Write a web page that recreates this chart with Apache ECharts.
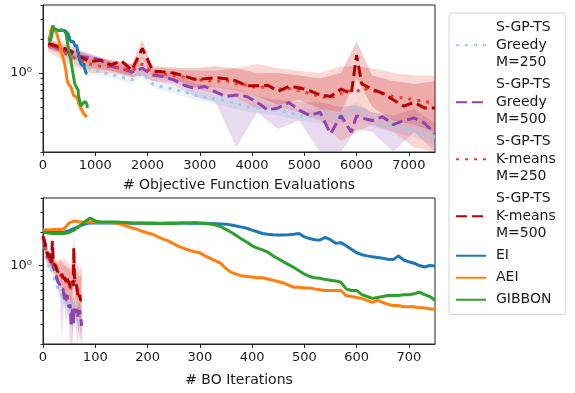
<!DOCTYPE html>
<html>
<head>
<meta charset="utf-8">
<script src="https://cdn.jsdelivr.net/npm/echarts@6/dist/echarts.min.js"></script>
<style>
  html, body { margin: 0; padding: 0; background: #fff; }
  #chart { width: 575px; height: 393px; }
</style>
</head>
<body>
<div id="chart"></div>
<script>
// batch runs: BO iteration index (100 initial points + 100 evaluations per batch)
const sgpIters = [0, 2, 4, 6, 8, 10, 12, 14, 16, 18, 20, 22, 24, 26, 28, 30, 32, 34, 36, 38,
  40, 42, 44, 46, 48, 50, 52, 54, 56, 58, 59, 60, 62, 64, 66, 68, 70, 72, 74];
const greedy250 = [1.75, 1.6, 1.4, 1.25, 1.1, 1.02, 0.97, 0.92, 0.87, 1.0, 0.8, 0.75, 0.72, 0.68, 0.64, 0.61, 0.59, 0.57, 0.54, 0.5,
  0.49, 0.48, 0.47, 0.45, 0.42, 0.41, 0.42, 0.43, 0.40, 0.47, 0.50, 0.42, 0.38, 0.35, 0.34, 0.32, 0.31, 0.29, 0.27];
const greedy500 = [1.8, 1.65, 1.5, 1.4, 1.37, 1.3, 1.15, 1.1, 1.02, 1.1, 0.96, 0.93, 0.87, 0.78, 0.73, 0.76, 0.68, 0.62, 0.64, 0.62,
  0.55, 0.47, 0.49, 0.55, 0.47, 0.42, 0.45, 0.29, 0.42, 0.30, 0.42, 0.40, 0.38, 0.41, 0.35, 0.38, 0.40, 0.36, 0.29];
const kmeans250 = [1.75, 1.62, 1.42, 1.3, 1.2, 1.15, 1.14, 1.1, 1.04, 1.2, 1.0, 0.98, 0.95, 0.92, 0.88, 0.86, 0.84, 0.86, 0.80, 0.78,
  0.74, 0.76, 0.72, 0.73, 0.70, 0.66, 0.62, 0.60, 0.66, 0.70, 0.68, 0.74, 0.70, 0.66, 0.62, 0.60, 0.58, 0.56, 0.54];
const kmeans500 = [1.83, 1.71, 1.6, 1.4, 1.26, 1.3, 1.18, 1.28, 1.06, 1.65, 1.04, 1.02, 1.0, 0.94, 0.88, 0.89, 0.91, 0.89, 0.85, 0.77,
  0.77, 0.78, 0.69, 0.76, 0.74, 0.70, 0.64, 0.62, 0.72, 0.66, 1.44, 0.8, 0.72, 0.66, 0.58, 0.51, 0.55, 0.49, 0.49];

// shaded spread for the batch runs
const bandIters = [0, 4, 8, 12, 16, 18, 20, 24, 28, 32, 36, 40, 44, 48, 52, 56, 59, 62, 66, 70, 74];
const greedy250Hi = [1.85, 1.5, 1.2, 1.05, 0.95, 1.08, 0.86, 0.78, 0.7, 0.64, 0.6, 0.55, 0.52, 0.48, 0.48, 0.45, 0.56, 0.45, 0.39, 0.36, 0.31];
const greedy250Lo = [1.65, 1.3, 1.0, 0.9, 0.8, 0.92, 0.74, 0.66, 0.58, 0.53, 0.48, 0.44, 0.42, 0.38, 0.36, 0.36, 0.44, 0.33, 0.3, 0.27, 0.23];
const greedy500Hi = [1.95, 1.62, 1.5, 1.25, 1.1, 1.25, 1.05, 0.95, 0.82, 0.75, 0.72, 0.62, 0.58, 0.55, 0.55, 0.5, 0.52, 0.45, 0.42, 0.48, 0.36];
const greedy500Lo = [1.65, 1.38, 1.22, 1.05, 0.92, 0.95, 0.85, 0.78, 0.62, 0.55, 0.22, 0.45, 0.32, 0.38, 0.2, 0.2, 0.32, 0.3, 0.2, 0.3, 0.2];
const kmeans250Hi = [1.95, 1.65, 1.4, 1.3, 1.2, 1.4, 1.1, 1.08, 1.05, 1.05, 1.1, 1.2, 1.1, 1.05, 1.0, 1.15, 1.15, 1.1, 1.0, 0.95, 0.95];
const kmeans250Lo = [1.55, 1.2, 1.0, 1.0, 0.92, 0.95, 0.85, 0.82, 0.72, 0.65, 0.6, 0.48, 0.5, 0.45, 0.38, 0.25, 0.3, 0.35, 0.3, 0.22, 0.2];
const kmeans500Hi = [2.0, 1.75, 1.45, 1.3, 1.2, 1.95, 1.15, 1.12, 1.1, 1.15, 1.1, 1.0, 1.0, 0.95, 0.9, 1.0, 1.9, 0.95, 0.85, 0.8, 0.85];
const kmeans500Lo = [1.65, 1.45, 1.1, 1.05, 0.95, 1.35, 0.92, 0.88, 0.75, 0.75, 0.7, 0.62, 0.52, 0.58, 0.48, 0.45, 0.9, 0.5, 0.38, 0.35, 0.3];

// sequential runs: one evaluation per iteration, after 100 initial points
const seqIters = [0, 10, 20, 30, 40, 50, 60, 70, 80, 90, 100, 110, 120, 130, 140, 150, 160, 170, 180, 190,
  200, 210, 220, 230, 240, 250, 260, 270, 280, 290, 300, 310, 320, 330, 340, 350, 360, 370, 380, 390,
  400, 410, 420, 430, 440, 450, 460, 470, 480, 490, 500, 510, 520, 530, 540, 550, 560, 570, 580, 590,
  600, 610, 620, 630, 640, 650, 660, 670, 680, 690, 700, 710, 720, 730, 740, 750];
const ei = [2.0, 1.98, 1.97, 1.97, 1.98, 2.05, 2.15, 2.25, 2.35, 2.4,
  2.4, 2.4, 2.39, 2.39, 2.4, 2.4, 2.39, 2.38, 2.38, 2.39,
  2.4, 2.39, 2.38, 2.38, 2.39, 2.4, 2.4, 2.39, 2.38, 2.38,
  2.38, 2.38, 2.37, 2.36, 2.35, 2.34, 2.3, 2.25, 2.2, 2.15,
  2.07, 2.0, 1.93, 1.9, 1.88, 1.87, 1.87, 1.88, 1.9, 1.93,
  1.8, 1.74, 1.7, 1.69, 1.78, 1.7, 1.58, 1.6, 1.5, 1.4,
  1.3, 1.25, 1.22, 1.2, 1.18, 1.16, 1.14, 1.13, 1.22, 1.12,
  1.08, 1.05, 1.0, 0.97, 1.0, 0.99];
const aei = [2.07, 2.08, 2.1, 2.1, 2.12, 2.4, 2.5, 2.45, 2.45, 2.45,
  2.45, 2.43, 2.42, 2.42, 2.38, 2.33, 2.25, 2.17, 2.1, 2.02,
  1.95, 1.9, 1.8, 1.72, 1.66, 1.56, 1.48, 1.42, 1.37, 1.33,
  1.3, 1.22, 1.16, 1.1, 1.05, 0.94, 0.87, 0.84, 0.81, 0.8,
  0.79, 0.78, 0.78, 0.76, 0.74, 0.72, 0.70, 0.67, 0.64, 0.64,
  0.63, 0.63, 0.62, 0.61, 0.60, 0.60, 0.60, 0.60, 0.54, 0.53,
  0.52, 0.51, 0.49, 0.47, 0.49, 0.47, 0.45, 0.44, 0.44, 0.43,
  0.43, 0.43, 0.42, 0.42, 0.41, 0.41];
const gibbon = [2.0, 1.95, 1.93, 1.93, 1.93, 1.97, 2.08, 2.25, 2.45, 2.65,
  2.5, 2.45, 2.45, 2.45, 2.45, 2.43, 2.42, 2.4, 2.4, 2.38,
  2.37, 2.37, 2.37, 2.37, 2.37, 2.37, 2.38, 2.4, 2.4, 2.42,
  2.4, 2.37, 2.35, 2.3, 2.22, 2.1, 1.98, 1.85, 1.72, 1.62,
  1.5, 1.43, 1.38, 1.32, 1.22, 1.15, 1.08, 1.02, 0.96, 0.9,
  0.84, 0.8, 0.78, 0.77, 0.75, 0.74, 0.73, 0.71, 0.62, 0.6,
  0.6, 0.55, 0.53, 0.51, 0.52, 0.53, 0.54, 0.54, 0.54, 0.55,
  0.55, 0.56, 0.58, 0.55, 0.53, 0.49];

const evalTicks = [0, 1000, 2000, 3000, 4000, 5000, 6000, 7000];
const iterTicks = [0, 100, 200, 300, 400, 500, 600, 700];
const minorTicks = [0.2, 0.3, 0.4, 0.5, 0.6, 0.7, 0.8, 0.9, 2, 3, 4];

const N_INIT = 100;
const BATCH = 100;

const font = "DejaVu Sans";
const ink = "#1a1a1a";

const methods = [
  { name: "S-GP-TS\nGreedy\nM=250", color: "#9ecae1", dash: [3, 6], ys: greedy250, hi: greedy250Hi, lo: greedy250Lo },
  { name: "S-GP-TS\nGreedy\nM=500", color: "#8e44ad", dash: [11, 5], ys: greedy500, hi: greedy500Hi, lo: greedy500Lo },
  { name: "S-GP-TS\nK-means\nM=250", color: "#ef3b2c", dash: [3, 6], ys: kmeans250, hi: kmeans250Hi, lo: kmeans250Lo },
  { name: "S-GP-TS\nK-means\nM=500", color: "#b30000", dash: [11, 5], ys: kmeans500, hi: kmeans500Hi, lo: kmeans500Lo },
];
const seqMethods = [
  { name: "EI", color: "#1f77b4", ys: ei },
  { name: "AEI", color: "#ff7f0e", ys: aei },
  { name: "GIBBON", color: "#2ca02c", ys: gibbon },
];

function hexA(hex, a) {
  const n = parseInt(hex.slice(1), 16);
  return "rgba(" + (n >> 16) + "," + ((n >> 8) & 255) + "," + (n & 255) + "," + a + ")";
}

// all marks sit on the minor-tick y axis; the other axis (same scale) only carries 10^0
function band(xs, lo, hi, color, plot) {
  return {
    type: "custom",
    xAxisIndex: plot,
    yAxisIndex: plot * 2 + 1,
    silent: true,
    clip: true,
    data: xs.map((x, i) => [x, lo[i], hi[i]]),
    encode: { x: 0, y: [1, 2] },
    renderItem: (params, api) => {
      if (params.dataIndexInside !== 0) return null;
      const pts = [];
      xs.forEach((x, i) => pts.push(api.coord([x, hi[i]])));
      for (let i = xs.length - 1; i >= 0; i--) pts.push(api.coord([xs[i], lo[i]]));
      return { type: "polygon", shape: { points: pts }, style: { fill: hexA(color, 0.2) } };
    },
  };
}

function line(name, xs, ys, color, dash, plot) {
  return {
    name: name,
    type: "line",
    xAxisIndex: plot,
    yAxisIndex: plot * 2 + 1,
    data: xs.map((x, i) => [x, ys[i]]),
    showSymbol: false,
    symbol: "none",
    clip: true,
    color: color,
    itemStyle: { opacity: 0 },
    lineStyle: { color: color, width: 3, type: dash || "solid", cap: "butt" },
  };
}

const series = [];
// top: objective function evaluations, bottom: BO iterations
[0, 1].forEach((plot) => {
  const bx = bandIters.map((it) => (plot === 0 ? N_INIT + BATCH * it : it));
  methods.forEach((m) => series.push(band(bx, m.lo, m.hi, m.color, plot)));
});
[0, 1].forEach((plot) => {
  const sx = sgpIters.map((it) => (plot === 0 ? N_INIT + BATCH * it : it));
  methods.forEach((m) => series.push(line(m.name, sx, m.ys, m.color, m.dash, plot)));
  const qx = seqIters.map((it) => (plot === 0 ? N_INIT + it : it));
  seqMethods.forEach((m) => series.push(line(m.name, qx, m.ys, m.color, null, plot)));
});

function xAxis(grid, max, ticks, name, gap) {
  return {
    type: "value",
    gridIndex: grid,
    min: 0,
    max: max,
    name: name,
    nameLocation: "middle",
    nameGap: gap,
    nameTextStyle: { fontFamily: font, fontSize: 14, color: ink },
    axisLine: { show: true, lineStyle: { color: "#222" } },
    axisTick: { show: true, length: 4, customValues: ticks, lineStyle: { color: "#222" } },
    axisLabel: {
      customValues: ticks,
      formatter: (v) => String(v),
      fontFamily: font, fontSize: 13, color: ink, margin: 7,
    },
    splitLine: { show: false },
  };
}

function yAxes(grid) {
  return [
    {
      type: "log",
      gridIndex: grid,
      position: "left",
      min: 0.2,
      max: 4,
      axisLine: { show: true, lineStyle: { color: "#222" } },
      axisTick: { show: true, length: 4, customValues: [1], lineStyle: { color: "#222" } },
      axisLabel: { customValues: [1], formatter: () => "10⁰", fontFamily: font, fontSize: 13, color: ink, margin: 11 },
      splitLine: { show: false },
    },
    {
      // minor ticks of the log axis
      type: "log",
      show: true,
      gridIndex: grid,
      position: "left",
      min: 0.2,
      max: 4,
      axisLine: { show: true, lineStyle: { color: "#222" } },
      axisTick: { show: true, length: 2.5, customValues: minorTicks, lineStyle: { color: "#222" } },
      axisLabel: { show: true, customValues: minorTicks, color: "rgba(0,0,0,0)", fontSize: 8 },
      splitLine: { show: false },
    },
  ];
}

const chart = echarts.init(document.getElementById("chart"), null, { renderer: "canvas" });
chart.setOption({
  animation: false,
  backgroundColor: "#fff",
  grid: [
    { left: 43, top: 5, width: 392, height: 147, show: true, borderColor: "#222", borderWidth: 1 },
    { left: 43, top: 198, width: 392, height: 146, show: true, borderColor: "#222", borderWidth: 1 },
  ],
  xAxis: [
    xAxis(0, 7500, evalTicks, "# Objective Function Evaluations", 26),
    xAxis(1, 750, iterTicks, "# BO Iterations", 29),
  ],
  yAxis: yAxes(0).concat(yAxes(1)),
  legend: {
    orient: "vertical",
    left: 449,
    top: 13,
    itemWidth: 30,
    itemHeight: 14,
    itemGap: 4.5,
    padding: [6, 10, 6, 6],
    borderColor: "#d4d4d4",
    borderWidth: 1,
    borderRadius: 3,
    backgroundColor: "#fff",
    selectedMode: false,
    itemStyle: { opacity: 0 },
    textStyle: { fontFamily: font, fontSize: 14, color: ink, lineHeight: 17.5, padding: [0, 0, 0, 5] },
    data: methods.map((m) => m.name).concat(seqMethods.map((m) => m.name)),
  },
  series: series,
});
</script>
</body>
</html>
